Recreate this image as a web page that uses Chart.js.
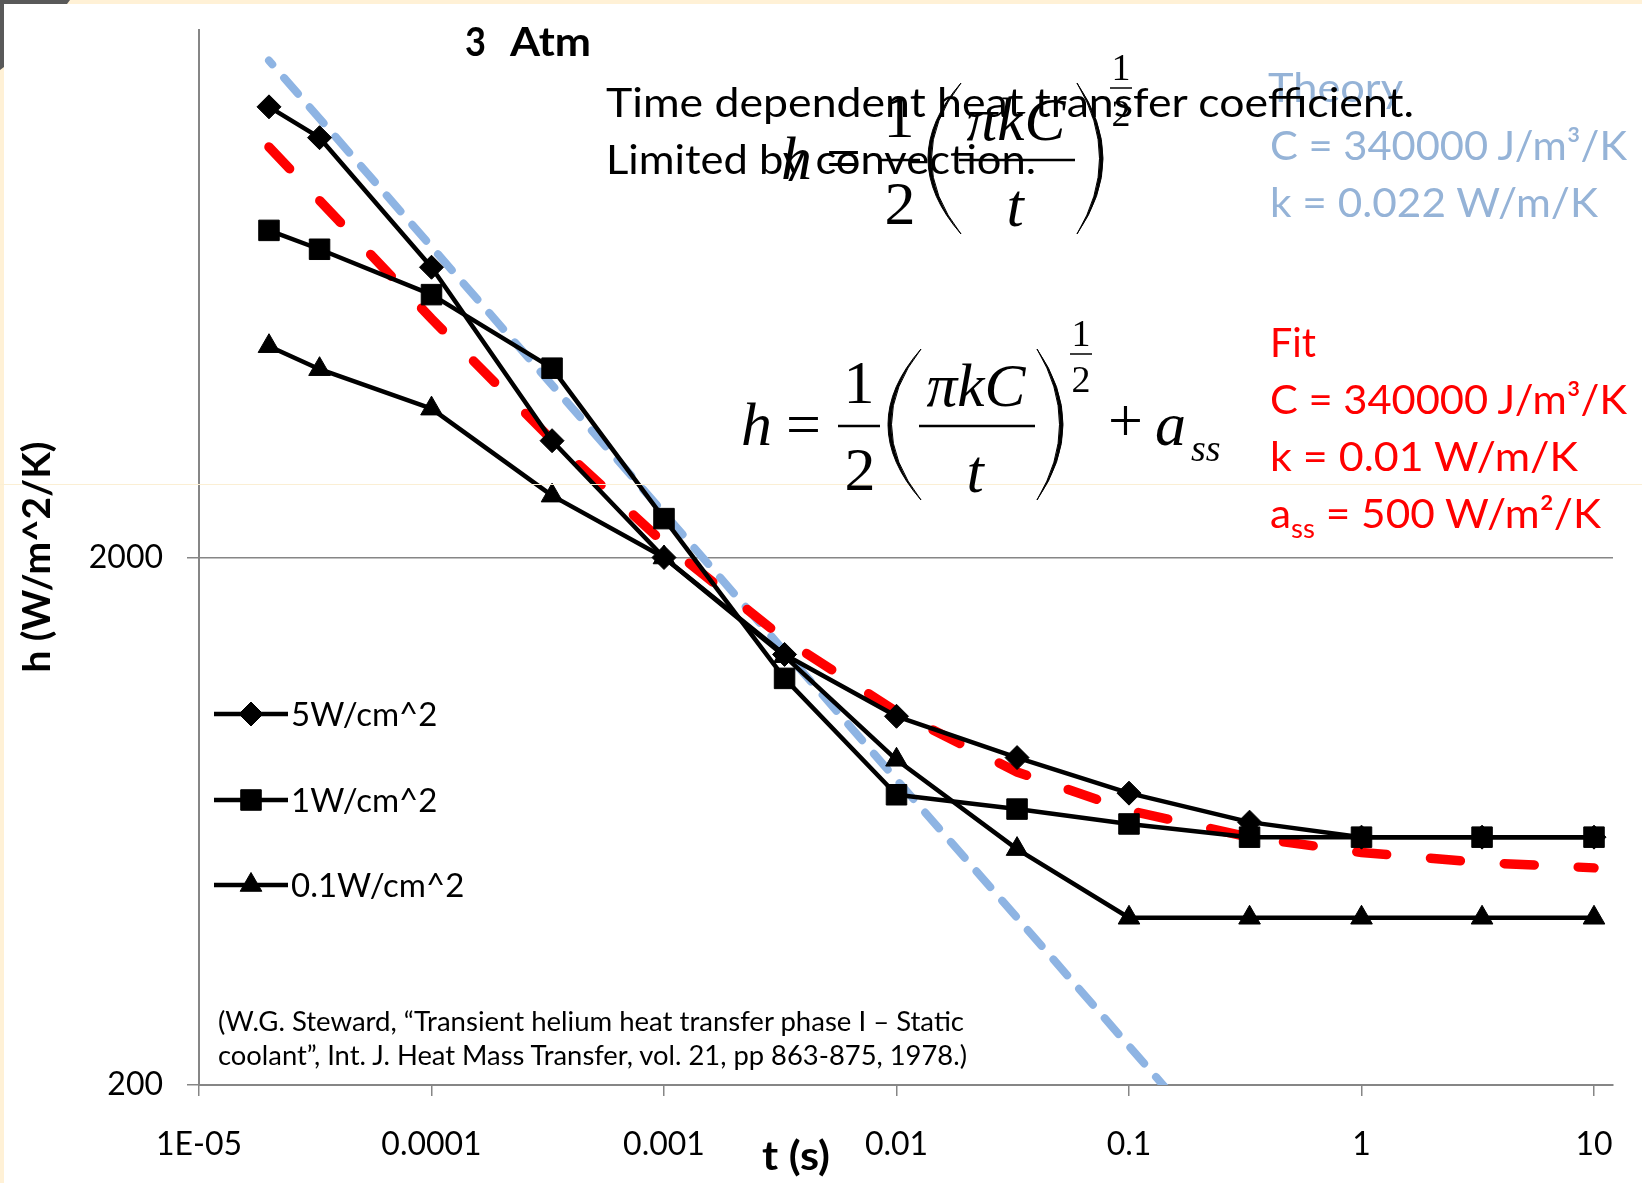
<!DOCTYPE html>
<html>
<head>
<meta charset="utf-8">
<script src="https://cdn.jsdelivr.net/npm/chart.js@4.4.0/dist/chart.umd.min.js"></script>
<style>
    html, body { margin: 0; padding: 0; background: #fff; overflow: hidden; }
    #wrap { position: relative; width: 1642px; height: 1183px; background: #fff; }
    #chartBox { position: absolute; left: 0; top: 0; width: 1642px; height: 1183px; }
    #overlay { position: absolute; left: 0; top: 0; pointer-events: none; }
</style>
</head>
<body>
<div id="wrap">
    <div id="chartBox"><canvas id="mychart"></canvas></div>
    <svg id="overlay" width="1642" height="1183" xmlns="http://www.w3.org/2000/svg"></svg>
</div>
<script>
// data (t in seconds, h in W/m^2/K)
const tValues = [2e-5, 3.3e-5, 1e-4, 3.3e-4, 1e-3, 3.3e-3, 0.01, 0.033, 0.1, 0.33, 1, 3.3, 10];
const h5W  = [14300, 12500, 7100, 3330, 2000, 1310, 1000, 835, 715, 630, 590, 590, 590];
const h1W  = [8340, 7680, 6300, 4570, 2370, 1180, 710, 667, 625, 590, 590, 590, 590];
const h01W = [5030, 4550, 3830, 2620, 2000, 1300, 827, 560, 415, 415, 415, 415, 415];
const fitH = [12000, 9500, 5670, 3340, 2130, 1400, 1020, 784, 663, 590, 552, 528, 516];
const theoryT = [2e-5, 0.155];
const theoryH = [17500, 190];

const seriesLabels = ['5W/cm^2', '1W/cm^2', '0.1W/cm^2'];
const xTicks = [1e-5, 1e-4, 1e-3, 1e-2, 0.1, 1, 10];
const xTickLabels = ['1E-05', '0.0001', '0.001', '0.01', '0.1', '1', '10'];
const yTicks = [200, 2000];
const yTickLabels = ['200', '2000'];

const toPoints = (xs, ys) => xs.map((x, i) => ({x: x, y: ys[i]}));

Chart.defaults.font.family = 'Lato';

// legend drawn inside the plot area, like the original
const insideLegend = {
    id: 'insideLegend',
    afterDraw(chart) {
        const ctx = chart.ctx;
        const rowsY = [714, 800, 885];
        ctx.save();
        seriesLabels.forEach((label, i) => {
            const ds = chart.data.datasets[i];
            const y = rowsY[i];
            ctx.strokeStyle = '#000';
            ctx.lineWidth = ds.borderWidth;
            ctx.beginPath();
            ctx.moveTo(214, y);
            ctx.lineTo(288, y);
            ctx.stroke();
            ctx.fillStyle = '#000';
            ctx.lineWidth = 1;
            if (Chart.helpers && Chart.helpers.drawPoint) {
                Chart.helpers.drawPoint(ctx, {pointStyle: ds.pointStyle, radius: ds.pointRadius, borderWidth: 1, rotation: 0}, 251, y);
            }
            ctx.font = '33px Lato';
            ctx.textBaseline = 'alphabetic';
            ctx.fillText(label, 291, y + 12);
        });
        ctx.restore();
    }
};

new Chart('mychart', {
    type: 'line',
    data: {
        datasets: [
            {label: seriesLabels[0], data: toPoints(tValues, h5W), borderColor: '#000', backgroundColor: '#000',
             borderWidth: 4.5, borderJoinStyle: 'round', pointStyle: 'rectRot', pointRadius: 12, pointBorderWidth: 1},
            {label: seriesLabels[1], data: toPoints(tValues, h1W), borderColor: '#000', backgroundColor: '#000',
             borderWidth: 4.5, borderJoinStyle: 'round', pointStyle: 'rect', pointRadius: 14.5, pointBorderWidth: 1},
            {label: seriesLabels[2], data: toPoints(tValues, h01W), borderColor: '#000', backgroundColor: '#000',
             borderWidth: 4.5, borderJoinStyle: 'round', pointStyle: 'triangle', pointRadius: 12.5, pointBorderWidth: 1},
            {label: 'Fit', data: toPoints(tValues, fitH), borderColor: '#FF0000',
             borderWidth: 9.5, borderDash: [30, 44], borderCapStyle: 'round', pointRadius: 0},
            {label: 'Theory', data: toPoints(theoryT, theoryH), borderColor: '#8EB4E3',
             borderWidth: 8, borderDash: [21, 18], borderDashOffset: 16, borderCapStyle: 'round', pointRadius: 0}
        ]
    },
    options: {
        responsive: true,
        maintainAspectRatio: false,
        animation: false,
        events: [],
        layout: {padding: {top: 30, right: 29, left: 0, bottom: 0}},
        plugins: {legend: {display: false}, tooltip: {enabled: false}},
        scales: {
            x: {
                type: 'logarithmic',
                min: 1e-5,
                max: 12.07,
                afterFit: (s) => { s.height = 98; s.paddingLeft = 0; s.paddingRight = 0; },
                afterBuildTicks: (s) => { s.ticks = xTicks.map((v) => ({value: v})); },
                border: {display: true, color: '#868686', width: 2},
                grid: {drawOnChartArea: false, drawTicks: true, tickLength: 11, color: '#868686', lineWidth: 1.5},
                ticks: {
                    autoSkip: false, maxRotation: 0, padding: 29,
                    color: '#000', font: {family: 'Lato', size: 32},
                    callback: (v, i) => xTickLabels[i]
                }
            },
            y: {
                type: 'logarithmic',
                min: 200,
                max: 20000,
                afterFit: (s) => { s.width = 199; s.paddingTop = 0; s.paddingBottom = 0; },
                afterBuildTicks: (s) => { s.ticks = yTicks.map((v) => ({value: v})); },
                border: {display: true, color: '#868686', width: 2},
                grid: {drawTicks: true, tickLength: 12, color: '#868686', lineWidth: 1.5},
                ticks: {
                    autoSkip: false, padding: 24,
                    color: '#000', font: {family: 'Lato', size: 32},
                    callback: (v, i) => yTickLabels[i]
                }
            }
        }
    },
    plugins: [insideLegend]
});

// text and equations laid over the chart
const NS = 'http://www.w3.org/2000/svg';
const svg = document.getElementById('overlay');

function addEl(tag, attrs) {
    const el = document.createElementNS(NS, tag);
    Object.keys(attrs).forEach((k) => el.setAttribute(k, attrs[k]));
    svg.appendChild(el);
    return el;
}

function addText(str, x, y, o) {
    const t = addEl('text', {x: x, y: y, 'font-family': o.family || 'Lato', 'font-size': o.size, fill: o.color || '#000'});
    if (o.weight) t.setAttribute('font-weight', o.weight);
    if (o.italic) t.setAttribute('font-style', 'italic');
    if (o.anchor) t.setAttribute('text-anchor', o.anchor);
    if (o.width) { t.setAttribute('textLength', o.width); t.setAttribute('lengthAdjust', 'spacingAndGlyphs'); }
    if (o.transform) t.setAttribute('transform', o.transform);
    t.textContent = str;
    return t;
}

// slide frame leftovers
addEl('rect', {x: 0, y: 0, width: 1642, height: 4, fill: '#FFF1D6'});
addEl('rect', {x: 0, y: 0, width: 4, height: 1183, fill: '#FFF1D6'});
addEl('polygon', {points: '0,0 70,0 67,4 4,4 4,67 0,70', fill: '#595959'});
addEl('line', {x1: 0, y1: 484.5, x2: 1642, y2: 484.5, stroke: '#FBEFD4', 'stroke-width': 1});

// title and axis titles
addText('3', 465, 55.5, {size: 40, weight: 'bold', width: 21});
addText('Atm', 510, 55.5, {size: 40, weight: 'bold', width: 81});
addText('h (W/m^2/K)', 0, 0, {size: 38, weight: 'bold', anchor: 'middle', width: 231, transform: 'translate(50,557) rotate(-90)'});
addText('t (s)', 796, 1170, {size: 40, weight: 'bold', anchor: 'middle', width: 68});

// theory block (blue) and fit block (red)
const blue = '#95B3D7';
const red = '#FF0000';
addText('Theory', 1268, 102, {size: 40, color: blue, width: 135});
addText('C = 340000 J/m³/K', 1270, 160, {size: 40, color: blue, width: 357});
addText('k = 0.022 W/m/K', 1270, 217, {size: 40, color: blue, width: 328});
addText('Fit', 1270, 357, {size: 40, color: red, width: 46});
addText('C = 340000 J/m³/K', 1270, 414, {size: 40, color: red, width: 357});
addText('k = 0.01 W/m/K', 1270, 471, {size: 40, color: red, width: 308});
const ass = addText('', 1270, 528, {size: 40, color: red, width: 331});
[['a', 40, 0], ['ss', 26, 10], [' = 500 W/m²/K', 40, -10]].forEach((p) => {
    const ts = document.createElementNS(NS, 'tspan');
    ts.setAttribute('font-size', p[1]);
    ts.setAttribute('dy', p[2]);
    ts.textContent = p[0];
    ass.appendChild(ts);
});

// description text
addText('Time dependent heat transfer coefficient.', 606, 117, {size: 40, width: 808});
addText('Limited by convection.', 606, 174, {size: 40, width: 430});

// equations
const serif = 'Liberation Serif';
function paren(x0, x1, top, bottom, left) {
    const mid = (top + bottom) / 2;
    const w = 3.5;
    let d;
    if (left) {
        d = `M ${x1} ${top} Q ${2 * x0 - x1} ${mid} ${x1} ${bottom} Q ${2 * (x0 + w) - x1} ${mid} ${x1} ${top} Z`;
    } else {
        d = `M ${x0} ${top} Q ${2 * x1 - x0} ${mid} ${x0} ${bottom} Q ${2 * (x1 - w) - x0} ${mid} ${x0} ${top} Z`;
    }
    addEl('path', {d: d, fill: '#000', stroke: '#000', 'stroke-width': 1});
}
function bar(x0, x1, y, th) {
    addEl('rect', {x: x0, y: y - th / 2, width: x1 - x0, height: th, fill: '#000'});
}
function equation(dx, dy, withAss) {
    addText('h', 741 + dx, 445 + dy, {family: serif, size: 62, italic: true});
    addText('=', 786 + dx, 445 + dy, {family: serif, size: 62});
    addText('1', 859 + dx, 403 + dy, {family: serif, size: 62, anchor: 'middle'});
    bar(838 + dx, 880 + dx, 426 + dy, 2.5);
    addText('2', 860 + dx, 490 + dy, {family: serif, size: 62, anchor: 'middle'});
    paren(888 + dx, 921 + dx, 349 + dy, 500 + dy, true);
    addText('πkC', 976 + dx, 406 + dy, {family: serif, size: 62, italic: true, anchor: 'middle', width: 99});
    bar(919 + dx, 1035 + dx, 426 + dy, 2.5);
    addText('t', 975 + dx, 492 + dy, {family: serif, size: 62, italic: true, anchor: 'middle'});
    paren(1037 + dx, 1063 + dx, 349 + dy, 500 + dy, false);
    addText('1', 1081 + dx, 346 + dy, {family: serif, size: 38, anchor: 'middle'});
    bar(1070 + dx, 1092 + dx, 354 + dy, 1.5);
    addText('2', 1081 + dx, 392 + dy, {family: serif, size: 38, anchor: 'middle'});
    if (withAss) {
        addText('+', 1108 + dx, 441 + dy, {family: serif, size: 62});
        addText('a', 1155 + dx, 445 + dy, {family: serif, size: 62, italic: true});
        addText('ss', 1191 + dx, 461 + dy, {family: serif, size: 38, italic: true});
    }
}
equation(40, -266, false);
equation(0, 0, true);

// citation
addText('(W.G. Steward, “Transient helium heat transfer phase I – Static', 218, 1031, {size: 26, width: 746});
addText('coolant”, Int. J. Heat Mass Transfer, vol. 21, pp 863-875, 1978.)', 218, 1065, {size: 26, width: 749});
</script>
</body>
</html>
